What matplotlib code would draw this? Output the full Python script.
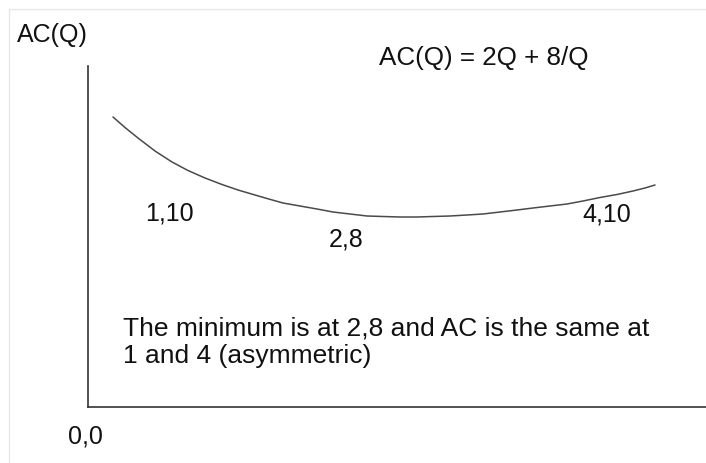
import matplotlib
matplotlib.use("Agg")
import matplotlib.pyplot as plt
from matplotlib.patches import Rectangle

# Curve (schematic units: Q, AC)
q_vals = [0.25, 0.37, 0.50, 0.67, 0.84, 1.00, 1.17, 1.34, 1.50, 1.67,
          1.79, 1.95, 2.12, 2.29, 2.45, 2.62, 2.79, 2.95, 3.12, 3.29,
          3.45, 3.62, 3.79, 3.95, 4.12, 4.29, 4.45, 4.62, 4.79, 4.95,
          5.12, 5.29, 5.45, 5.57, 5.67]
ac_vals = [14.5, 13.975, 13.45, 12.8, 12.25, 11.825, 11.45, 11.125, 10.85, 10.6,
           10.425, 10.2, 10.05, 9.9, 9.75, 9.65, 9.55, 9.525, 9.5, 9.5,
           9.525, 9.55, 9.6, 9.65, 9.75, 9.85, 9.95, 10.05, 10.15, 10.3,
           10.475, 10.625, 10.8, 10.95, 11.1]

point_labels = ["1,10", "2,8", "4,10"]
label_q = [0.81, 2.58, 5.19]
label_ac = [9.7, 8.4, 9.65]

y_axis_title = "AC(Q)"
equation = "AC(Q) = 2Q + 8/Q"
note = "The minimum is at 2,8 and AC is the same at\n1 and 4 (asymmetric)"
origin_label = "0,0"

plt.rcParams['font.family'] = ['Liberation Sans', 'DejaVu Sans']

W, H = 706, 464
fig = plt.figure(figsize=(W / 100, H / 100), dpi=100)
fig.patch.set_facecolor("white")

# faint outer frame
fig.add_artist(Rectangle((9 / W, -0.1), 1.2, (H - 10) / H + 0.1,
                         transform=fig.transFigure, fill=False,
                         edgecolor="#e6e6e6", linewidth=1))

ax = fig.add_axes([88 / W, (H - 408) / H, (W - 88) / W, (408 - 67) / H])
ax.set_xlim(0, 6.18)
ax.set_ylim(0, 17.05)
for s in ["top", "right"]:
    ax.spines[s].set_visible(False)
for s in ["left", "bottom"]:
    ax.spines[s].set_color("#333333")
    ax.spines[s].set_linewidth(1.2)
ax.set_xticks([])
ax.set_yticks([])
ax.patch.set_alpha(0)

ax.plot(q_vals, ac_vals, color="#4a4a4a", linewidth=1.1,
        solid_joinstyle="round", solid_capstyle="round")

fs = 18
for lab, xq, ya in zip(point_labels, label_q, label_ac):
    ax.text(xq, ya, lab, ha="center", va="center", fontsize=fs, color="#111111")

ax.text(-0.03, -1.45, origin_label, ha="center", va="center", fontsize=fs,
        color="#111111", clip_on=False)
ax.text(-0.36, 18.65, y_axis_title, ha="center", va="center", fontsize=fs,
        color="#111111", clip_on=False)
ax.text(3.96, 17.5, equation, ha="center", va="center", fontsize=18.7,
        color="#111111", clip_on=False)
ax.text(0.35, 3.3, note, ha="left", va="center", fontsize=19,
        color="#111111", linespacing=1.2)

fig.savefig("out.png", dpi=100)
